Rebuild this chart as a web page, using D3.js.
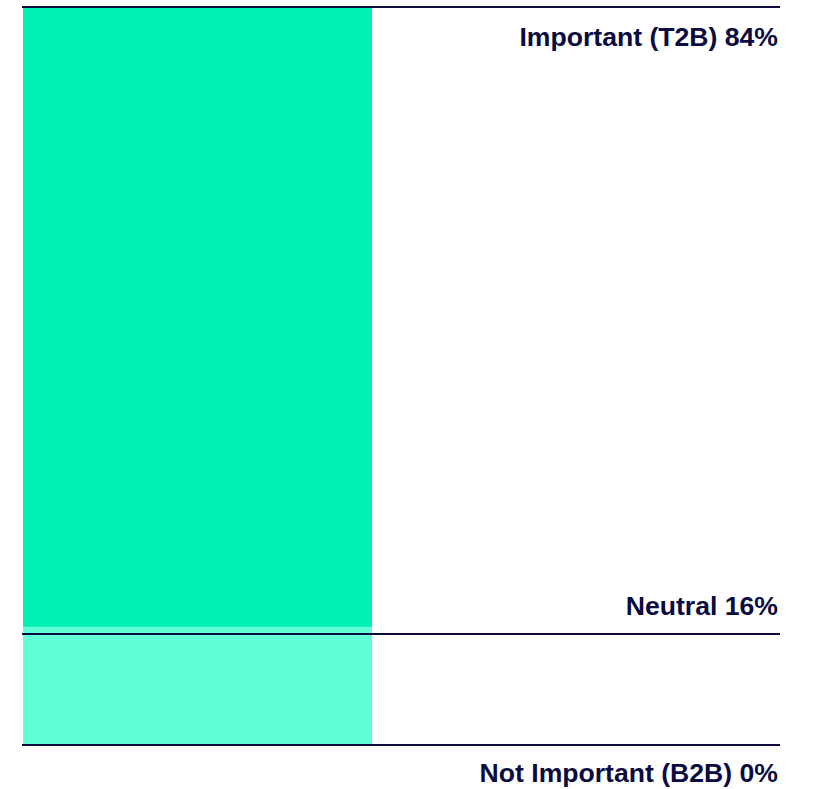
<!DOCTYPE html>
<html>
<head>
<meta charset="utf-8">
<script src="https://cdn.jsdelivr.net/npm/d3@7"></script>
<style>
  html, body { margin: 0; padding: 0; background: #ffffff; }
  svg { display: block; }
</style>
</head>
<body>
<svg id="chart" width="813" height="789"></svg>
<script>
// Share of respondents by importance rating (percent)
const categories = ["Important (T2B)", "Neutral", "Not Important (B2B)"];
const values = [84, 16, 0];
const colors = ["#00F0B4", "#60FFD6", "#2FD9A8"];

const svg = d3.select("#chart");

// Vertical scale for the stacked bar (0% at top)
const y = d3.scaleLinear().domain([0, 100]).range([7, 745]);
// Horizontal extent of the rules and label column
const x = d3.scaleLinear().domain([0, 1]).range([22, 780]);
const barLeft = 23, barRight = 372;

// Stack the segments top to bottom
let cum = 0;
const segs = values.map((v, i) => {
  const s = { cat: categories[i], v, y0: cum, y1: cum + v, color: colors[i] };
  cum += v;
  return s;
});

svg.append("g").selectAll("rect")
  .data(segs.filter(d => d.v > 0))
  .join("rect")
  .attr("x", barLeft)
  .attr("width", barRight - barLeft)
  .attr("y", d => y(d.y0))
  .attr("height", d => y(d.y1) - y(d.y0))
  .attr("fill", d => d.color);

// Separator rules
const ink = "#0B0B3F";
const rules = [y(0), y(segs[0].y1) + 7, y(100)];
svg.append("g").selectAll("line")
  .data(rules)
  .join("line")
  .attr("x1", x(0)).attr("x2", x(1))
  .attr("y1", d => d).attr("y2", d => d)
  .attr("stroke", ink)
  .attr("stroke-width", 2);

// Category labels, right-aligned
const labelY = [y(0) + 39, y(segs[0].y1) - 12, y(100) + 37];
svg.append("g").selectAll("text")
  .data(segs)
  .join("text")
  .attr("x", 778)
  .attr("y", (d, i) => labelY[i])
  .attr("text-anchor", "end")
  .style("font-family", "'Liberation Sans', Arial, sans-serif")
  .style("font-weight", "bold")
  .style("font-size", "26.6px")
  .attr("fill", ink)
  .text(d => `${d.cat} ${d.v}%`);
</script>
</body>
</html>
